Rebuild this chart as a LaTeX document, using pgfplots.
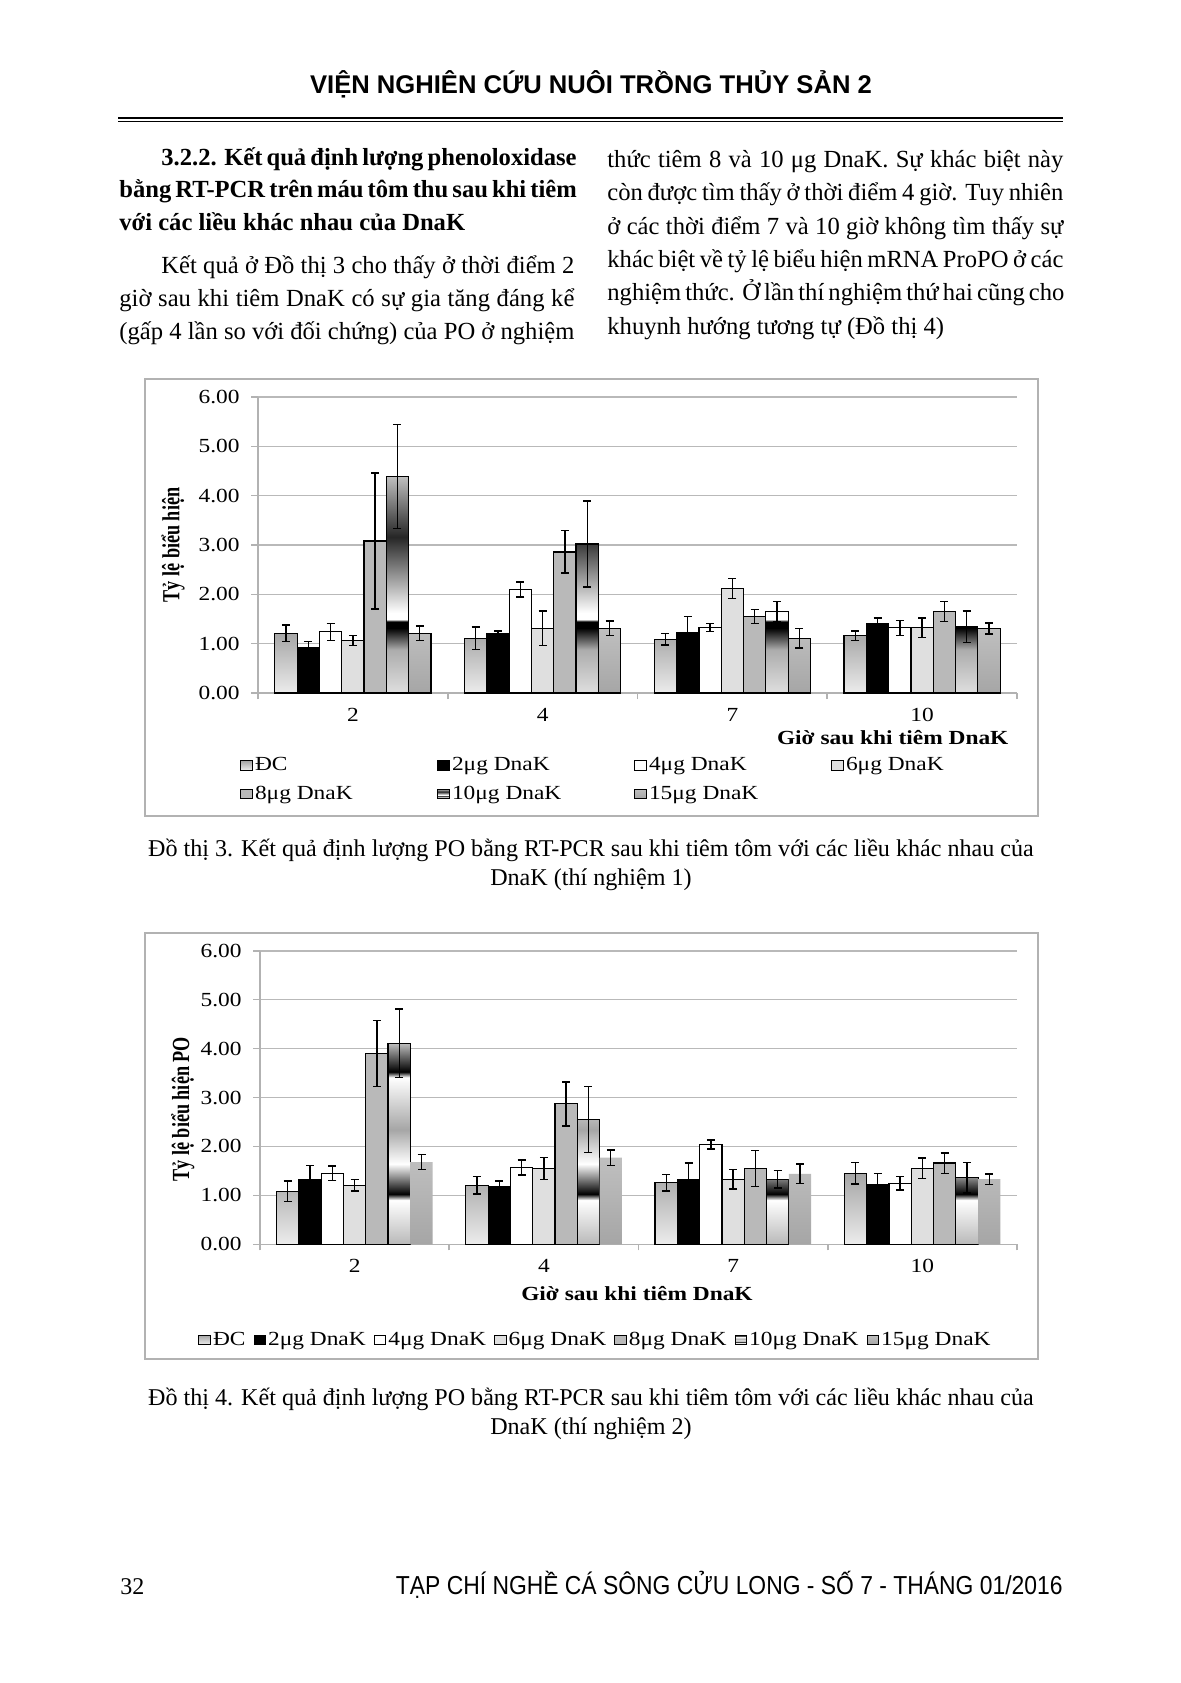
\documentclass[border=0pt]{standalone}
\usepackage{fontspec}
\setmainfont{Liberation Serif}
\newfontfamily\headfont{Liberation Sans}
\newfontfamily\chartfam[FakeStretch=1.17]{Liberation Serif}
\usepackage{pgfplots}
\pgfplotsset{compat=1.18}

% gradient fills standing in for the Excel textures
\pgfdeclareverticalshading{metalA}{100bp}{color(0bp)=(gray!25); color(25bp)=(gray!25); color(35bp)=(gray!65); color(40bp)=(black); color(41.5bp)=(black); color(42bp)=(white); color(43.5bp)=(white); color(61bp)=(black!85); color(75bp)=(gray!50); color(100bp)=(gray!50)}
\pgfdeclareverticalshading{metalB}{100bp}{color(0bp)=(gray!55); color(25bp)=(gray!55); color(36bp)=(white); color(37.5bp)=(black); color(45bp)=(white); color(53.5bp)=(gray!70); color(66.5bp)=(white); color(67.9bp)=(black); color(75bp)=(gray!50); color(100bp)=(gray!50)}

\newcommand\bodyfont{\fontsize{12.3}{16.65}\selectfont}
\newcommand\capfont{\fontsize{12.05}{16}\selectfont}
\newcommand\chartfont{\chartfam\fontsize{10}{12}\selectfont}

\pgfplotsset{
  chartstyle/.style={
    scale only axis,
    ymin=0, ymax=6, ytick={0,1,...,6},
    xmin=-0.5, xmax=3.5,
    xtick={0,1,2,3}, xticklabels={2,4,7,10},
    minor xtick={-0.5,0.5,1.5,2.5,3.5},
    major x tick style={draw=none},
    axis x line*=bottom, axis y line*=left,
    axis line style={gray!60, line width=0.8pt},
    tick style={gray!60, line width=0.8pt},
    tick align=outside, major tick length=3.5pt, minor tick length=3pt,
    ymajorgrids, grid style={gray!55, line width=0.8pt},
    tick label style={font=\chartfont},
    yticklabel style={xshift=-2.2pt, /pgf/number format/.cd, fixed, fixed zerofill, precision=2},
    /pgf/number format/assume math mode=true,
    xlabel style={font=\chartfont\bfseries},
    ylabel style={font=\fontsize{9.1}{11}\selectfont\bfseries, yscale=1.35},
    ybar=0pt, bar width=11.15pt,
    legend image code/.code={\draw[##1, line width=0.5pt] (0pt,-2.2pt) rectangle (5.8pt,2.4pt);},
  },
  ebar/.style={
    error bars/y dir=both, error bars/y explicit,
    error bars/error bar style={black, line width=0.7pt},
    error bars/error mark options={rotate=90, mark size=2pt, line width=0.7pt, black},
  },
  dc/.style={draw=black, line width=0.6pt, top color=gray!70, bottom color=gray!15},
  d2/.style={draw=black, line width=0.6pt, fill=black},
  d4/.style={draw=black, line width=0.6pt, fill=white},
  d6/.style={draw=black, line width=0.6pt, fill=gray!25},
  d8/.style={draw=black, line width=0.6pt, fill=gray!55},
  d10a/.style={draw=black, line width=0.6pt, shading=metalA},
  d10b/.style={draw=black, line width=0.6pt, shading=metalB},
  d15/.style={draw=black, line width=0.6pt, top color=gray!50, bottom color=gray!70},
}

\begin{document}
\begin{tikzpicture}[x=0.5pt, y=-0.5pt]
\path[use as bounding box, fill=white] (0,0) rectangle (1181,1683);

% page header
\node[anchor=base, inner sep=0] at (591,93.3) {\headfont\bfseries\fontsize{12.8}{15}\selectfont VIỆN NGHIÊN CỨU NUÔI TRỒNG THỦY SẢN 2};
\draw[line width=1.3pt] (118,118) -- (1063,118);
\draw[line width=0.5pt] (118,121.5) -- (1063,121.5);

% left column
\node[anchor=base west, inner sep=0] at (161,165) {\bodyfont\bfseries\makebox[206.5pt][s]{3.2.2. Kết quả định lượng phenoloxidase}};
\node[anchor=base west, inner sep=0] at (119,197.3) {\bodyfont\bfseries\makebox[227.5pt][s]{bằng RT-PCR trên máu tôm thu sau khi tiêm}};
\node[anchor=base west, inner sep=0] at (119,230) {\bodyfont\bfseries với các liều khác nhau của DnaK};
\node[anchor=base west, inner sep=0] at (161,273.3) {\bodyfont\makebox[206.5pt][s]{Kết quả ở Đồ thị 3 cho thấy ở thời điểm 2}};
\node[anchor=base west, inner sep=0] at (119,306.7) {\bodyfont\makebox[227.5pt][s]{giờ sau khi tiêm DnaK có sự gia tăng đáng kể}};
\node[anchor=base west, inner sep=0] at (119,339.3) {\bodyfont\makebox[227.5pt][s]{(gấp 4 lần so với đối chứng) của PO ở nghiệm}};

% right column
\node[anchor=base west, inner sep=0] at (607,167) {\bodyfont\makebox[228pt][s]{thức tiêm 8 và 10 μg DnaK. Sự khác biệt này}};
\node[anchor=base west, inner sep=0] at (607,200.5) {\bodyfont\makebox[228pt][s]{còn được tìm thấy ở thời điểm 4 giờ. Tuy nhiên}};
\node[anchor=base west, inner sep=0] at (607,234) {\bodyfont\makebox[228pt][s]{ở các thời điểm 7 và 10 giờ không tìm thấy sự}};
\node[anchor=base west, inner sep=0] at (607,267.3) {\bodyfont\makebox[228pt][s]{khác biệt về tỷ lệ biểu hiện mRNA ProPO ở các}};
\node[anchor=base west, inner sep=0] at (607,300.7) {\bodyfont\makebox[228pt][s]{nghiệm thức. Ở lần thí nghiệm thứ hai cũng cho}};
\node[anchor=base west, inner sep=0] at (607,334) {\bodyfont khuynh hướng tương tự (Đồ thị 4)};

% ---------- Do thi 3 ----------
\draw[gray!60, line width=1pt] (145,379) rectangle (1038,816);
\begin{axis}[chartstyle,
  at={(129pt,-346.5pt)}, anchor=south west,
  width=379.5pt, height=148pt,
  xticklabel style={yshift=-0.5pt},
  ylabel={Tỷ lệ biểu hiện},
  ylabel style={at={(axis description cs:-0.112,0.5)}, anchor=center},
  xlabel={Giờ sau khi tiêm DnaK},
  xlabel style={at={(axis description cs:0.998,-0.152)}, anchor=east},
  legend columns=4, legend cell align={left},
  legend style={at={(axis description cs:-0.0237,-0.21)}, anchor=north west,
    draw=none, fill=none, inner sep=0pt, font=\chartfont, column sep=0pt, row sep=4pt,
    nodes={inner sep=1pt}},
]
\addplot[dc, ebar] coordinates {(0,1.21) +- (0,0.17) (1,1.11) +- (0,0.23) (2,1.09) +- (0,0.12) (3,1.16) +- (0,0.10)};
\addplot[d2, ebar] coordinates {(0,0.92) +- (0,0.12) (1,1.20) +- (0,0.06) (2,1.22) +- (0,0.33) (3,1.41) +- (0,0.11)};
\addplot[d4, ebar] coordinates {(0,1.24) +- (0,0.17) (1,2.10) +- (0,0.15) (2,1.33) +- (0,0.08) (3,1.32) +- (0,0.15)};
\addplot[d6, ebar] coordinates {(0,1.06) +- (0,0.10) (1,1.31) +- (0,0.35) (2,2.12) +- (0,0.20) (3,1.32) +- (0,0.20)};
\addplot[d8, ebar] coordinates {(0,3.08) +- (0,1.38) (1,2.86) +- (0,0.43) (2,1.55) +- (0,0.14) (3,1.65) +- (0,0.20)};
\addplot[d10a, ebar] coordinates {(0,4.39) +- (0,1.05) (1,3.02) +- (0,0.87) (2,1.65) +- (0,0.20) (3,1.34) +- (0,0.32)};
\addplot[d15, ebar] coordinates {(0,1.21) +- (0,0.15) (1,1.31) +- (0,0.15) (2,1.11) +- (0,0.20) (3,1.31) +- (0,0.11)};
\legend{\makebox[90.2pt][l]{ĐC}, \makebox[90.2pt][l]{2μg DnaK}, \makebox[90.2pt][l]{4μg DnaK}, 6μg DnaK,
  8μg DnaK, 10μg DnaK, 15μg DnaK}
\end{axis}
\node[anchor=base, inner sep=0] at (591,856.7) {\capfont Đồ thị 3. Kết quả định lượng PO bằng RT-PCR sau khi tiêm tôm với các liều khác nhau của};
\node[anchor=base, inner sep=0] at (591,885) {\capfont DnaK (thí nghiệm 1)};

% ---------- Do thi 4 ----------
\draw[gray!60, line width=1pt] (145,933) rectangle (1038,1359);
\begin{axis}[chartstyle,
  at={(130pt,-622.15pt)}, anchor=south west,
  width=378.5pt, height=146.8pt,
  xticklabel style={yshift=-0.3pt},
  ylabel={Tỷ lệ biểu hiện PO},
  ylabel style={at={(axis description cs:-0.102,0.46)}, anchor=center},
  xlabel={Giờ sau khi tiêm DnaK},
  xlabel style={at={(axis description cs:0.498,-0.169)}, anchor=center},
  legend columns=-1,
  legend style={at={(axis description cs:-0.0819,-0.326)}, anchor=west,
    draw=none, fill=none, inner sep=0pt, font=\chartfont, column sep=0pt,
    nodes={inner sep=1pt},
    /tikz/every even column/.append style={column sep=3pt}},
]
\addplot[dc, ebar] coordinates {(0,1.08) +- (0,0.21) (1,1.21) +- (0,0.18) (2,1.26) +- (0,0.17) (3,1.45) +- (0,0.22)};
\addplot[d2, ebar] coordinates {(0,1.33) +- (0,0.28) (1,1.18) +- (0,0.11) (2,1.33) +- (0,0.33) (3,1.23) +- (0,0.22)};
\addplot[d4, ebar] coordinates {(0,1.45) +- (0,0.15) (1,1.57) +- (0,0.15) (2,2.04) +- (0,0.09) (3,1.25) +- (0,0.14)};
\addplot[d6, ebar] coordinates {(0,1.21) +- (0,0.12) (1,1.55) +- (0,0.23) (2,1.33) +- (0,0.20) (3,1.55) +- (0,0.21)};
\addplot[d8, ebar] coordinates {(0,3.90) +- (0,0.67) (1,2.87) +- (0,0.45) (2,1.55) +- (0,0.37) (3,1.66) +- (0,0.21)};
\addplot[d10b, ebar] coordinates {(0,4.11) +- (0,0.70) (1,2.55) +- (0,0.67) (2,1.33) +- (0,0.18) (3,1.36) +- (0,0.31)};
\addplot[d15, draw=none, ebar] coordinates {(0,1.68) +- (0,0.15) (1,1.77) +- (0,0.16) (2,1.44) +- (0,0.20) (3,1.33) +- (0,0.11)};
\legend{ĐC, 2μg DnaK, 4μg DnaK, 6μg DnaK, 8μg DnaK, 10μg DnaK, 15μg DnaK}
\end{axis}
\node[anchor=base, inner sep=0] at (591,1405) {\capfont Đồ thị 4. Kết quả định lượng PO bằng RT-PCR sau khi tiêm tôm với các liều khác nhau của};
\node[anchor=base, inner sep=0] at (591,1434) {\capfont DnaK (thí nghiệm 2)};

% page footer
\node[anchor=base west, inner sep=0] at (120,1594) {\fontsize{12}{14}\selectfont 32};
\node[anchor=base east, inner sep=0] at (1063,1594) {\scalebox{0.88}[1]{\headfont\fontsize{13}{15}\selectfont TẠP CHÍ NGHỀ CÁ SÔNG CỬU LONG - SỐ 7 - THÁNG 01/2016}};
\end{tikzpicture}
\end{document}
